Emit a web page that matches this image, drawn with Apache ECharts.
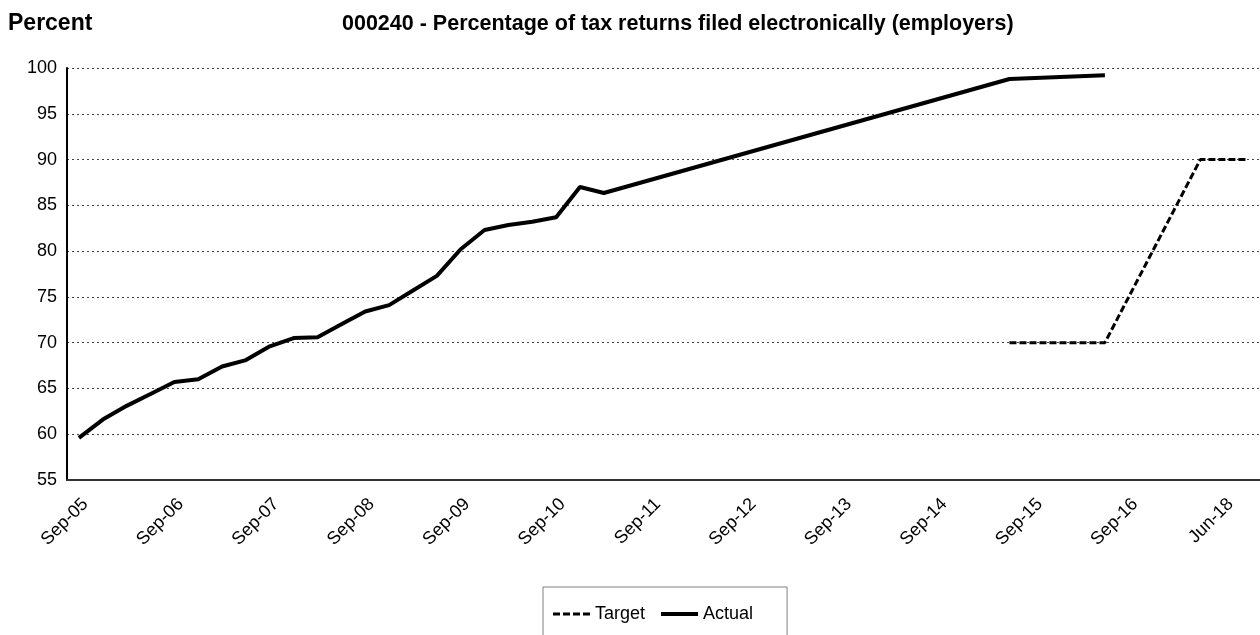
<!DOCTYPE html>
<html>
<head>
<meta charset="utf-8">
<script src="https://cdn.jsdelivr.net/npm/echarts@6/dist/echarts.min.js"></script>
<style>
  html, body { margin: 0; padding: 0; background: #fff; }
  #main { width: 1260px; height: 635px; }
</style>
</head>
<body>
<div id="main"></div>
<script>
// quarterly categories, a label every 4th one
const categories = [
  'Sep-05', 'Dec-05', 'Mar-06', 'Jun-06', 'Sep-06', 'Dec-06', 'Mar-07', 'Jun-07',
  'Sep-07', 'Dec-07', 'Mar-08', 'Jun-08', 'Sep-08', 'Dec-08', 'Mar-09', 'Jun-09',
  'Sep-09', 'Dec-09', 'Mar-10', 'Jun-10', 'Sep-10', 'Dec-10', 'Mar-11', 'Jun-11',
  'Sep-11', 'Dec-11', 'Mar-12', 'Jun-12', 'Sep-12', 'Dec-12', 'Mar-13', 'Jun-13',
  'Sep-13', 'Dec-13', 'Mar-14', 'Jun-14', 'Sep-14', 'Dec-14', 'Mar-15', 'Jun-15',
  'Sep-15', 'Dec-15', 'Mar-16', 'Jun-16', 'Sep-16', 'Dec-16', 'Mar-17', 'Jun-17',
  'Jun-18', 'Sep-18'
]

const actual = [
  59.6, 61.6, 63.1, 64.4, 65.7, 66.0, 67.4, 68.1, 69.6, 70.5,
  70.6, 72.0, 73.4, 74.1, 75.7, 77.3, 80.2, 82.3, 82.85, 83.2,
  83.7, 87.0, 86.35, null, null, null, null, null, null, null,
  null, null, null, null, null, null, null, null, null, 98.8,
  null, null, null, 99.2, null, null, null, null, null, null
]

const target = [
  null, null, null, null, null, null, null, null, null, null,
  null, null, null, null, null, null, null, null, null, null,
  null, null, null, null, null, null, null, null, null, null,
  null, null, null, null, null, null, null, null, null, 70,
  null, null, null, 70, null, null, null, 90, null, 90
]

const yTicks = { min: 55, max: 100, step: 5 }

const font = '"Liberation Sans", Arial, sans-serif'

let chart = echarts.init(document.getElementById('main'))

let option = {
  animation: false,
  textStyle: { fontFamily: font, color: '#000' },
  title: [
    {
      text: 'Percent',
      left: 8,
      top: 12,
      padding: 0,
      textStyle: { fontFamily: font, fontSize: 23, fontWeight: 'bold', color: '#000' }
    },
    {
      text: '000240 - Percentage of tax returns filed electronically (employers)',
      left: 342,
      top: 13,
      padding: 0,
      textStyle: { fontFamily: font, fontSize: 21.5, fontWeight: 'bold', color: '#000' }
    }
  ],
  legend: {
    left: 543,
    top: 587,
    padding: [18, 34, 18, 10],
    borderColor: '#808080',
    borderWidth: 1,
    itemWidth: 37,
    itemHeight: 4,
    itemGap: 16,
    textStyle: { fontFamily: font, fontSize: 18, color: '#000' },
    data: [
      { name: 'Target', icon: 'path://M0,0h7v3h-7z M10,0h7v3h-7z M20,0h7v3h-7z M30,0h7v3h-7z' },
      { name: 'Actual', icon: 'rect' }
    ]
  },
  grid: {
    left: 67,
    top: 68,
    width: 1200,
    height: 412
  },
  xAxis: {
    type: 'category',
    data: categories,
    boundaryGap: true,
    axisLine: { show: true, lineStyle: { color: '#333', width: 2 } },
    axisTick: { show: false },
    axisLabel: {
      interval: 3,
      rotate: 45,
      margin: 15,
      verticalAlign: 'top',
      fontFamily: font,
      fontSize: 18,
      color: '#000'
    },
    splitLine: { show: false }
  },
  yAxis: {
    type: 'value',
    min: yTicks.min,
    max: yTicks.max,
    interval: yTicks.step,
    axisLine: { show: true, lineStyle: { color: '#000', width: 2 } },
    axisTick: { show: false },
    axisLabel: { margin: 10, fontFamily: font, fontSize: 18, color: '#000' },
    splitLine: { show: true, lineStyle: { color: '#444', width: 1, type: [2, 3] } }
  },
  series: [
    {
      name: 'Target',
      type: 'line',
      data: target,
      connectNulls: true,
      symbol: 'none',
      lineStyle: { color: '#000', width: 3, type: [7, 3] },
      itemStyle: { color: '#000' }
    },
    {
      name: 'Actual',
      type: 'line',
      data: actual,
      connectNulls: true,
      symbol: 'none',
      lineStyle: { color: '#000', width: 4 },
      itemStyle: { color: '#000' }
    }
  ]
}

chart.setOption(option)
</script>
</body>
</html>
